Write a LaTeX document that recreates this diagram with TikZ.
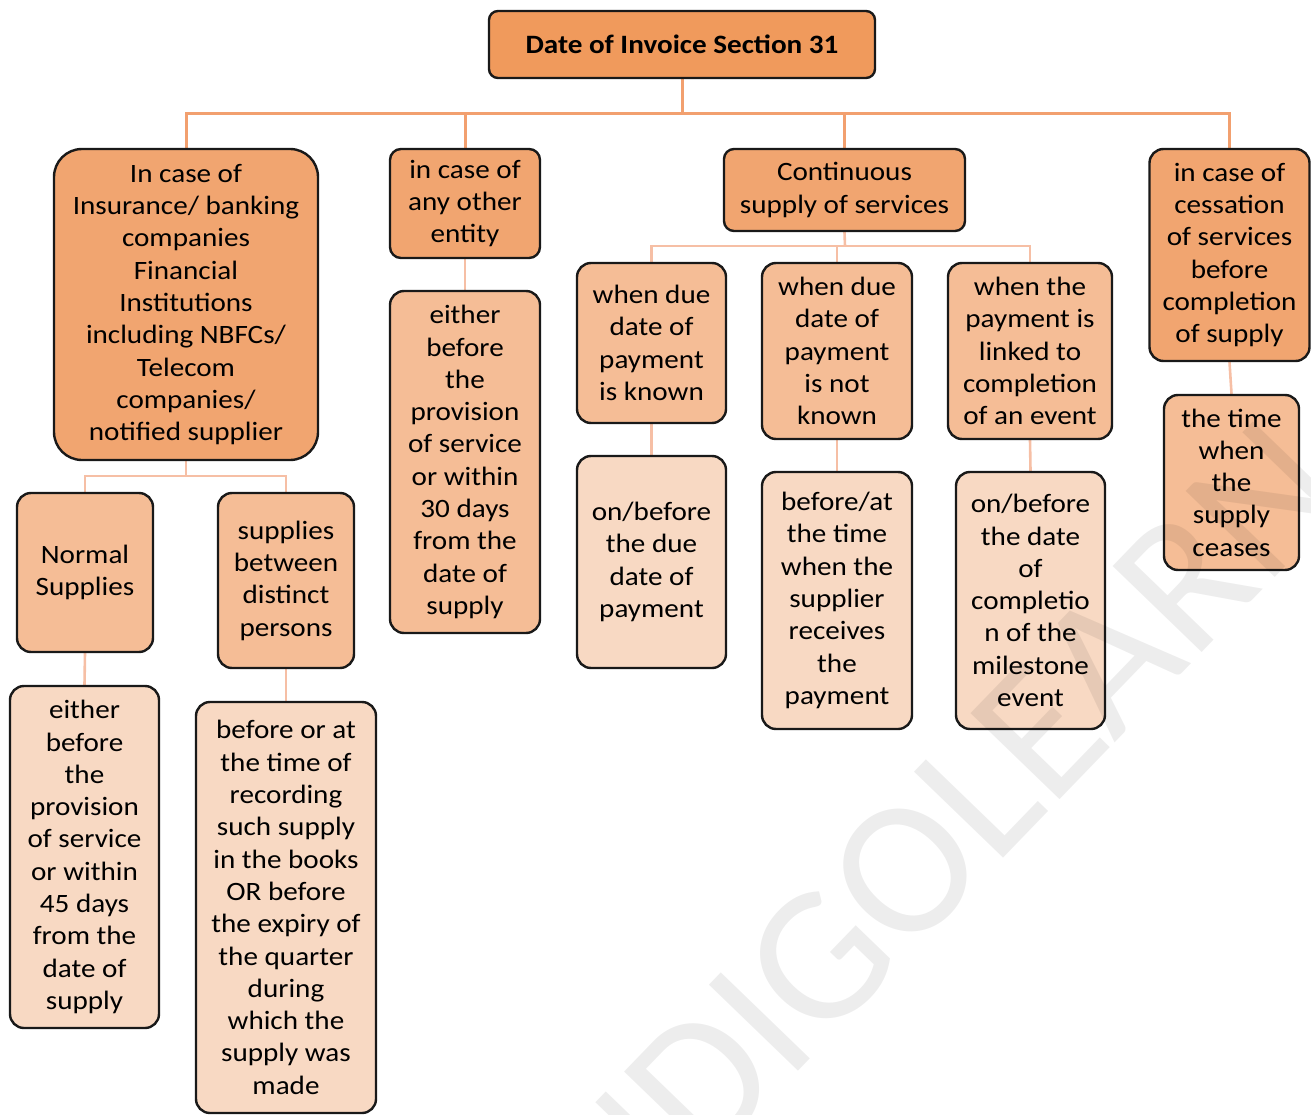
\documentclass[tikz,border=0pt]{standalone}
\usepackage{fontspec}
\setmainfont{Carlito}[FakeStretch=1.1]
\newfontfamily\markfont{Carlito}
\usetikzlibrary{backgrounds}
\definecolor{rootfill}{HTML}{F09A5C}
\definecolor{headfill}{HTML}{F1A570}
\definecolor{midfill}{HTML}{F5BD96}
\definecolor{leaffill}{HTML}{F8D9C3}
\definecolor{toplink}{HTML}{F2A06F}
\definecolor{sublink}{HTML}{F6BFA5}
\tikzset{
  box/.style={draw=black!90, line width=2.4pt, rounded corners=14pt, align=center,
    inner sep=0pt, font=\fontsize{26.5}{32.3}\selectfont},
  rootbox/.style={box, fill=rootfill, rounded corners=9pt, font=\bfseries\fontsize{26.5}{32.3}\selectfont},
  headbox/.style={box, fill=headfill},
  midbox/.style={box, fill=midfill},
  leafbox/.style={box, fill=leaffill},
  toplinks/.style={draw=toplink, line width=3pt},
  sublinks/.style={draw=sublink, line width=2.6pt},
  sz/.style 2 args={minimum width=#1pt, minimum height=#2pt},
}
\begin{document}
\begin{tikzpicture}[x=1pt,y=-1pt]
\useasboundingbox (0,0) rectangle (1311,1115);

% root
\node[rootbox, sz={386}{67}] (root) at (682,44.5) {Date of Invoice Section 31};

% first level
\node[headbox, sz={264}{311}, rounded corners=28pt] (ins) at (186,304.5)
  {In case of\\Insurance/ banking\\companies\\Financial\\Institutions\\including NBFCs/\\Telecom\\companies/\\notified supplier};
\node[headbox, sz={150}{109}, rounded corners=11pt] (other) at (465,203.5)
  {in case of\\any other\\entity};
\node[headbox, sz={241}{82}, rounded corners=10pt] (cont) at (844.5,190)
  {Continuous\\supply of services};
\node[headbox, sz={160}{212}] (cess) at (1229.5,255)
  {in case of\\cessation\\of services\\before\\completion\\of supply};

% insurance branch
\node[midbox, sz={136}{159}] (normal) at (85,572.5) {Normal\\Supplies};
\node[midbox, sz={136}{175}] (distinct) at (286,580.5) {supplies\\between\\distinct\\persons};
\node[leafbox, sz={149}{342}] (normalT) at (84.5,857)
  {either\\before\\the\\provision\\of service\\or within\\45 days\\from the\\date of\\supply};
\node[leafbox, sz={180}{411}] (distinctT) at (286,907.5)
  {before or at\\the time of\\recording\\such supply\\in the books\\OR before\\the expiry of\\the quarter\\during\\which the\\supply was\\made};

% other entity branch
\node[midbox, sz={150}{342}] (otherT) at (465,462)
  {either\\before\\the\\provision\\of service\\or within\\30 days\\from the\\date of\\supply};

% continuous supply branch
\node[midbox, sz={149}{160}] (known) at (651.5,343) {when due\\date of\\payment\\is known};
\node[midbox, sz={150}{176}] (unknown) at (837,351) {when due\\date of\\payment\\is not\\known};
\node[midbox, sz={164}{176}] (event) at (1030,351) {when the\\payment is\\linked to\\completion\\of an event};
\node[leafbox, sz={149}{212}] (knownT) at (651.5,562) {on/before\\the due\\date of\\payment};
\node[leafbox, sz={150}{257}] (unknownT) at (837,600.5)
  {before/at\\the time\\when the\\supplier\\receives\\the\\payment};
\node[leafbox, sz={149}{257}] (eventT) at (1030.5,600.5)
  {on/before\\the date\\of\\completio\\n of the\\milestone\\event};

% cessation branch
\node[midbox, sz={135}{175}] (cessT) at (1231.5,482.5) {the time\\when\\the\\supply\\ceases};

% connectors
\coordinate (bus) at (682,114);
\coordinate (insbus) at (186,476);
\coordinate (contbus) at (845,246);
\begin{scope}[on background layer]
  \draw[toplinks] (root.south) -- (root.south |- bus);
  \draw[toplinks] (ins.north) -- (ins.north |- bus) -- (cess.north |- bus) -- (cess.north);
  \draw[toplinks] (other.north) -- (other.north |- bus);
  \draw[toplinks] (cont.north) -- (cont.north |- bus);

  \draw[sublinks] (ins.south) -- (insbus);
  \draw[sublinks] (normal.north) -- (normal.north |- insbus) -- (distinct.north |- insbus) -- (distinct.north);
  \draw[sublinks] (normal.south) -- (normalT.north);
  \draw[sublinks] (distinct.south) -- (distinctT.north);

  \draw[sublinks] (other.south) -- (otherT.north);

  \draw[sublinks] (cont.south) -- (contbus);
  \draw[sublinks] (known.north) -- (known.north |- contbus) -- (event.north |- contbus) -- (event.north);
  \draw[sublinks] (unknown.north) -- (unknown.north |- contbus);
  \draw[sublinks] (known.south) -- (knownT.north);
  \draw[sublinks] (unknown.south) -- (unknownT.north);
  \draw[sublinks] (event.south) -- (eventT.north);

  \draw[sublinks] (cess.south) -- (cessT.north);
\end{scope}

% faint watermark lettering
\begin{scope}
  \clip (0,0) rectangle (1311,1115);
  \node[rotate=46, anchor=base, text=black, opacity=0.07, inner sep=0pt,
        font=\markfont\fontsize{193}{193}\selectfont] (mark) at (968,895) {INDIGOLEARN};
\end{scope}
\end{tikzpicture}
\end{document}
